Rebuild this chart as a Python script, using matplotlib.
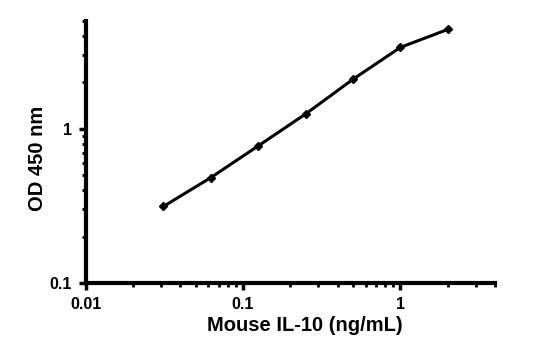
import numpy as np
import matplotlib.pyplot as plt
from matplotlib.ticker import FixedLocator, FixedFormatter, LogLocator, NullFormatter

# standard curve data
conc = [0.03125, 0.0625, 0.125, 0.25, 0.5, 1, 2]
od = [0.314, 0.483, 0.776, 1.25, 2.10, 3.38, 4.42]

x_ticks = [0.01, 0.1, 1]
x_tick_labels = ['0.01', '0.1', '1']
y_ticks = [0.1, 1]
y_tick_labels = ['0.1', '1']

plt.rcParams['font.family'] = ['Liberation Sans', 'DejaVu Sans']
plt.rcParams['font.weight'] = 'bold'

fig = plt.figure(figsize=(5.59, 3.41), dpi=100)
ax = fig.add_axes([0.153, 0.170, 0.733, 0.768])

ax.plot(conc, od, color='black', lw=2.2, marker='D', ms=4.5)

ax.set_xscale('log')
ax.set_yscale('log')
ax.set_xlim(0.01, 4)
ax.set_ylim(0.1, 5)

ax.xaxis.set_major_locator(FixedLocator(x_ticks))
ax.xaxis.set_major_formatter(FixedFormatter(x_tick_labels))
ax.yaxis.set_major_locator(FixedLocator(y_ticks))
ax.yaxis.set_major_formatter(FixedFormatter(y_tick_labels))
for a in (ax.xaxis, ax.yaxis):
    a.set_minor_locator(LogLocator(base=10, subs=np.arange(2, 10)))
    a.set_minor_formatter(NullFormatter())

ax.spines['top'].set_visible(False)
ax.spines['right'].set_visible(False)
ax.spines['left'].set_linewidth(3)
ax.spines['bottom'].set_linewidth(3)

ax.tick_params(which='major', direction='out', length=5, width=2.5, labelsize=11.5, pad=5)
ax.tick_params(which='minor', direction='out', length=3, width=2)
for lbl in ax.get_xticklabels() + ax.get_yticklabels():
    lbl.set_fontweight('bold')

ax.set_xlabel('Mouse IL-10 (ng/mL)', fontsize=14.5, fontweight='bold')
ax.set_ylabel('OD 450 nm', fontsize=14.5, fontweight='bold')
ax.xaxis.set_label_coords(0.535, -0.125)
ax.yaxis.set_label_coords(-0.095, 0.477)

fig.savefig('out.png', dpi=100)
